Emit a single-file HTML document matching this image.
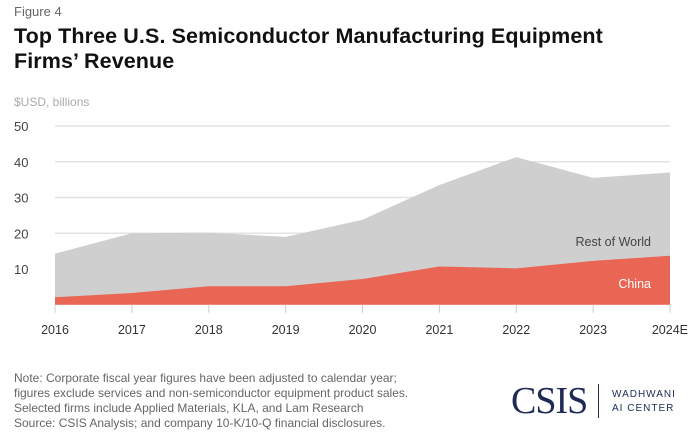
<!DOCTYPE html>
<html><head><meta charset="utf-8"><style>
body{margin:0;background:#fff;font-family:"Liberation Sans",sans-serif;}
#wrap{position:relative;width:700px;height:438px;overflow:hidden;}
.t{position:absolute;white-space:nowrap;}
</style></head><body>
<div id="wrap">
<div class="t" style="left:14px;top:4px;font-size:13px;color:#666">Figure 4</div>
<div class="t" style="left:14px;top:24px;font-size:21.5px;font-weight:bold;color:#111;line-height:25px;letter-spacing:0.1px">Top Three U.S. Semiconductor Manufacturing Equipment<br>Firms’ Revenue</div>
<div class="t" style="left:14px;top:95px;font-size:12px;color:#aaa">$USD, billions</div>
<svg id="chart" width="700" height="438" style="position:absolute;left:0;top:0"></svg>
<div class="t" style="left:14px;top:371px;font-size:12px;color:#666;line-height:15px">Note: Corporate fiscal year figures have been adjusted to calendar year;<br>figures exclude services and non-semiconductor equipment product sales.<br>Selected firms include Applied Materials, KLA, and Lam Research</div>
<div class="t" style="left:14px;top:416px;font-size:12px;color:#666">Source: CSIS Analysis; and company 10-K/10-Q financial disclosures.</div>
<div class="t" style="left:511px;top:379px;font-size:38px;font-family:'Liberation Serif',serif;color:#1f2a55;letter-spacing:-1px">CSIS</div>
<div style="position:absolute;left:598px;top:384px;width:1px;height:34px;background:#1f2a55"></div>
<div class="t" style="left:612px;top:388px;font-size:10px;color:#1f2a55;letter-spacing:1px;line-height:14px">WADHWANI<br>AI CENTER</div>
</div>
<script>
const years=["2016","2017","2018","2019","2020","2021","2022","2023","2024E"];
const china=[2.1,3.3,5.2,5.2,7.2,10.7,10.2,12.3,13.7];
const total=[14.3,20.0,20.2,19.0,23.8,33.5,41.3,35.5,37.0];
const yTicks=[10,20,30,40,50];
const NS="http://www.w3.org/2000/svg";
const svg=document.getElementById('chart');
const x0=55,x1=670,yb=304.8,yt=126;
const xs=i=>x0+(x1-x0)*i/(years.length-1);
const ys=v=>yb-(yb-yt)*v/50;
function mk(t,a){const e=document.createElementNS(NS,t);for(const k in a)e.setAttribute(k,a[k]);svg.appendChild(e);return e;}
yTicks.forEach(v=>{
 const l=mk('line',{x1:x0,x2:x1,y1:ys(v),y2:ys(v),stroke:'#e3e3e3','stroke-width':1.5});
 
 
 const t=mk('text',{x:14,y:ys(v)+5,'font-size':13,fill:'#444','font-family':'Liberation Sans, sans-serif'});
 t.textContent=v;
 
 
});
let d='M'+xs(0)+','+ys(0);
total.forEach((v,i)=>d+=' L'+xs(i)+','+ys(v));
d+=' L'+xs(total.length-1)+','+ys(0)+' Z';
const rw=mk('path',{d:d,fill:'#cfcfcf'});


let d2='M'+xs(0)+','+ys(0);
china.forEach((v,i)=>d2+=' L'+xs(i)+','+ys(v));
d2+=' L'+xs(china.length-1)+','+ys(0)+' Z';
const ch=mk('path',{d:d2,fill:'#e96554'});


years.forEach((y,i)=>{
 const tk=mk('line',{x1:xs(i),x2:xs(i),y1:yb,y2:yb+8,stroke:'#ccc','stroke-width':1});
 
 
 const last=i===years.length-1;
 const t=mk('text',{x:last?688:xs(i),y:yb+29,'font-size':12.5,fill:'#333','text-anchor':last?'end':'middle','font-family':'Liberation Sans, sans-serif'});
 t.textContent=y;
 
 
});
const l1=mk('text',{x:651,y:246,'font-size':12.5,fill:'#444','text-anchor':'end','font-family':'Liberation Sans, sans-serif'});
l1.textContent='Rest of World';


const l2=mk('text',{x:651,y:288,'font-size':12.5,fill:'#fff','text-anchor':'end','font-family':'Liberation Sans, sans-serif'});
l2.textContent='China';


</script>
</body></html>
